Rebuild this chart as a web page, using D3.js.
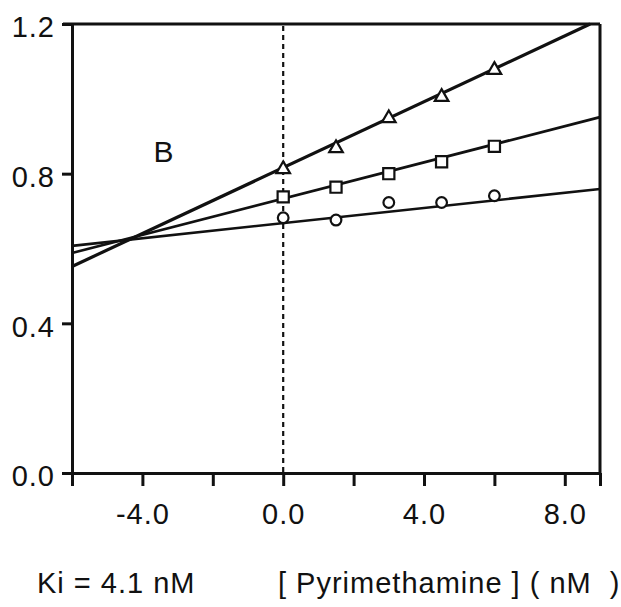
<!DOCTYPE html>
<html>
<head>
<meta charset="utf-8">
<script src="https://cdn.jsdelivr.net/npm/d3@7"></script>
<style>
    body { margin: 0; background: #fff; }
    svg text { font-family: "Liberation Sans", Arial, Helvetica, sans-serif; fill: #111; }
</style>
</head>
<body>
<svg id="chart"></svg>
<script>
// concentrations of pyrimethamine (nM) at which 1/v was measured
const conc = [0, 1.5, 3.0, 4.5, 6.0];

// measured values, one array per substrate level
const triangleVals = [0.812, 0.868, 0.948, 1.005, 1.077];
const squareVals   = [0.738, 0.764, 0.800, 0.832, 0.873];
const circleVals   = [0.682, 0.676, 0.723, 0.723, 0.741];

// fitted lines: x ends and y ends
const triangleFitX = [-6, 8.72];
const triangleFitY = [0.552, 1.2];
const squareFitX   = [-6, 9];
const squareFitY   = [0.588, 0.951];
const circleFitX   = [-6, 9];
const circleFitY   = [0.607, 0.759];

const xTicks = [-6, -4, -2, 0, 2, 4, 6, 8, 9];
const xLabels = [-4, 0, 4, 8];
const yTicks = [0, 0.4, 0.8, 1.2];

const panelLabel = 'B';
const kiText = 'Ki = 4.1 nM';
const xTitle = '[ Pyrimethamine ] ( nM  )';

class DixonPlot {
    constructor (config) {
        this.config = {
            parent: config.parent,
            width: config.width || 621,
            height: config.height || 607,
            margin: config.margin || {top:24, right:21, bottom:134, left:72}
        };
        this.init();
    }

    init() {
        let self = this;

        self.svg = d3.select(self.config.parent)
            .attr('width', self.config.width)
            .attr('height', self.config.height);

        self.chart = self.svg.append('g')
            .attr('transform', `translate(${self.config.margin.left}, ${self.config.margin.top})`);

        self.inner_width = self.config.width - self.config.margin.left - self.config.margin.right;
        self.inner_height = self.config.height - self.config.margin.top - self.config.margin.bottom;

        self.xscale = d3.scaleLinear()
            .domain([-6, 9])
            .range([0, self.inner_width]);

        self.yscale = d3.scaleLinear()
            .domain([0, 1.2])
            .range([self.inner_height, 0]);
    }

    render() {
        let self = this;
        const ink = '#111';
        // plain hyphen for negatives, as in the figure
        const fmt = d => d3.format('.1f')(d).replace('\u2212', '-');

        // frame: top and right edges
        self.chart.append('line')
            .attr('x1', -9).attr('x2', self.inner_width)
            .attr('y1', 0).attr('y2', 0)
            .attr('stroke', ink).attr('stroke-width', 3);
        self.chart.append('line')
            .attr('x1', self.inner_width).attr('x2', self.inner_width)
            .attr('y1', 0).attr('y2', self.inner_height)
            .attr('stroke', ink).attr('stroke-width', 3);

        // dashed line at x = 0
        self.chart.append('line')
            .attr('x1', self.xscale(0)).attr('x2', self.xscale(0))
            .attr('y1', 2).attr('y2', self.inner_height)
            .attr('stroke', ink).attr('stroke-width', 2.2)
            .attr('stroke-dasharray', '5,4');

        const xaxis = d3.axisBottom(self.xscale)
            .tickValues(xTicks)
            .tickSize(13)
            .tickSizeOuter(0)
            .tickPadding(17)
            .tickFormat(d => xLabels.includes(d) ? fmt(d) : '');

        const yaxis = d3.axisLeft(self.yscale)
            .tickValues(yTicks)
            .tickSize(10)
            .tickSizeOuter(0)
            .tickPadding(7)
            .tickFormat(fmt);

        const xg = self.chart.append('g')
            .attr('transform', `translate(0, ${self.inner_height})`)
            .call(xaxis);
        const yg = self.chart.append('g')
            .call(yaxis);

        [xg, yg].forEach(g => {
            g.select('.domain').attr('stroke', ink).attr('stroke-width', 3);
            g.selectAll('.tick line').attr('stroke', ink).attr('stroke-width', 3);
            g.selectAll('.tick text')
                .style('font-size', '29px')
                .style('letter-spacing', '1px')
                .attr('fill', ink);
        });
        yg.selectAll('.tick text').attr('dy', '0.44em');

        // fitted lines
        const fits = [
            {x: triangleFitX, y: triangleFitY, w: 3.2},
            {x: squareFitX, y: squareFitY, w: 2.8},
            {x: circleFitX, y: circleFitY, w: 2.6}
        ];
        const line = d3.line()
            .x(d => self.xscale(d[0]))
            .y(d => self.yscale(d[1]));
        fits.forEach(f => {
            self.chart.append('path')
                .datum(f.x.map((v, i) => [v, f.y[i]]))
                .attr('d', line)
                .attr('fill', 'none')
                .attr('stroke', ink)
                .attr('stroke-width', f.w);
        });

        // markers
        const series = [
            {vals: triangleVals, sym: d3.symbol(d3.symbolTriangle, 80)},
            {vals: squareVals, sym: d3.symbol(d3.symbolSquare, 125)},
            {vals: circleVals, sym: d3.symbol(d3.symbolCircle, 90)}
        ];
        series.forEach(s => {
            self.chart.append('g')
                .selectAll('path')
                .data(conc.map((c, i) => [c, s.vals[i]]))
                .join('path')
                .attr('d', s.sym)
                .attr('transform', d => `translate(${self.xscale(d[0])}, ${self.yscale(d[1])})`)
                .attr('fill', '#fff')
                .attr('stroke', ink)
                .attr('stroke-width', 2.2);
        });

        // panel letter
        self.chart.append('text')
            .attr('x', self.xscale(-3.4))
            .attr('y', self.yscale(0.832))
            .attr('text-anchor', 'middle')
            .style('font-size', '30px')
            .text(panelLabel);

        // texts under the axis
        self.svg.append('text')
            .attr('x', 37)
            .attr('y', 593)
            .style('font-size', '29px')
            .style('letter-spacing', '1px')
            .style('white-space', 'pre')
            .text(kiText);

        self.svg.append('text')
            .attr('x', 278)
            .attr('y', 593)
            .style('font-size', '29px')
            .style('letter-spacing', '1px')
            .style('white-space', 'pre')
            .text(xTitle);
    }
}

const plot = new DixonPlot({parent: '#chart'});
plot.render();
</script>
</body>
</html>
